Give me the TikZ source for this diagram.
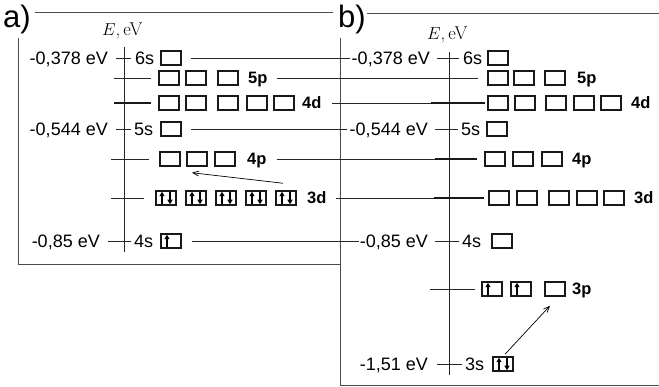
\documentclass[tikz,border=0pt]{standalone}
\usepackage{fontspec}
\newfontfamily\arial{Liberation Sans}
\usetikzlibrary{arrows.meta}
\newcommand\eup[1]{\draw[el] ([xshift=-4pt,yshift=1.8pt]#1.south) -- ([xshift=-4pt,yshift=-1.5pt]#1.north);}
\newcommand\edn[1]{\draw[el] ([xshift=4pt,yshift=-1.8pt]#1.north) -- ([xshift=4pt,yshift=1.5pt]#1.south);}
\begin{document}
\begin{tikzpicture}[x=1pt,y=-1pt,
  en/.style={font=\arial\fontsize{18}{18}\selectfont, inner sep=0pt, text height=13pt, text depth=0pt},
  ob/.style={font=\arial\bfseries\fontsize{16.5}{16.5}\selectfont, inner sep=0pt, text height=12pt, text depth=0pt},
  hd/.style={font=\arial\fontsize{31}{31}\selectfont, inner sep=0pt, anchor=base west},
  ax/.style={font=\fontsize{18.5}{18.5}\selectfont, inner sep=0pt, anchor=base west},
  orb/.style={draw=black!90, line width=1.5pt, minimum width=20pt, minimum height=14pt, inner sep=0pt},
  lvl/.style={line width=0.75pt, draw=black!85},
  tk/.style={line width=1.5pt, draw=black!90},
  mk/.style={line width=1.1pt, draw=black!90},
  frm/.style={line width=0.8pt, draw=black!70},
  el/.style={line width=1.3pt, -{Triangle[length=4.5pt,width=5pt]}},
  exc/.style={line width=0.7pt, -{Straight Barb[length=6pt,width=5pt]}},
]
\useasboundingbox (0,0) rectangle (659,387);

% frames and headings
\node[hd] (ha) at (3,28) {a)};
\node[hd] (hb) at (338,28) {b)};
\draw[frm] (35,12) -- (333,12);
\draw[frm] (367,13) -- (659,13);
\draw[frm] (18,38) -- (18,264) -- (340,264);
\draw[frm] (340,38) -- (340,385) -- (659,385);

% axes
\node[ax] (aE) at (102,36) {$E$,\,eV};
\node[ax] (bE) at (427,40) {$E$,\,eV};
\draw[lvl] (124,47) -- (124,252);
\draw[lvl] (449,52) -- (449,375);

% ---------- panel a ----------
\node[en,anchor=east] (a6sE) at (108,58) {-0,378 eV};
\node[en,anchor=west] (a6sL) at (135,58) {6s};
\node[orb] (a6s) at (171,58) {};
\draw[lvl] ([xshift=8pt]a6sE.east) -- ([xshift=-4pt]a6sL.west);

\foreach \n/\x in {1/169,2/196,3/228} \node[orb] (a5p\n) at (\x,78) {};
\node[ob,anchor=west] (a5pL) at (248,78) {5p};
\draw[lvl] ([xshift=-7pt]a5p1.west) -- ++(-37,0);

\foreach \n/\x in {1/169,2/196,3/228,4/257,5/284} \node[orb] (a4d\n) at (\x,103) {};
\node[ob,anchor=west] (a4dL) at (302,103) {4d};
\draw[tk] ([xshift=-7pt]a4d1.west) -- ++(-37,0);

\node[en,anchor=east] (a5sE) at (108,129) {-0,544 eV};
\node[en,anchor=west] (a5sL) at (134,129) {5s};
\node[orb] (a5s) at (171,129) {};
\draw[lvl] ([xshift=8pt]a5sE.east) -- ([xshift=-3pt]a5sL.west);

\foreach \n/\x in {1/170,2/197,3/225} \node[orb] (a4p\n) at (\x,159) {};
\node[ob,anchor=west] (a4pL) at (247,159) {4p};
\draw[lvl] ([xshift=-10pt]a4p1.west) -- ++(-38,0);

\foreach \n/\x in {1/166,2/196,3/226,4/256,5/286} \node[orb] (a3d\n) at (\x,198) {};
\node[ob,anchor=west] (a3dL) at (307,198) {3d};
\draw[lvl] ([xshift=-11pt]a3d1.west) -- ++(-33,0);
\foreach \n in {1,...,5} {\eup{a3d\n}\edn{a3d\n}}

\node[en,anchor=east] (a4sE) at (100,241) {-0,85 eV};
\node[en,anchor=west] (a4sL) at (134,241) {4s};
\node[orb] (a4s) at (171,241) {};
\draw[lvl] ([xshift=8pt]a4sE.east) -- ([xshift=-3pt]a4sL.west);
\eup{a4s}

\draw[exc] ([shift={(-3,-7)}]a3d5.north) -- ([shift={(-5,6)}]a4p2.south);

% ---------- panel b ----------
\node[en,anchor=east] (b6sE) at (430,58) {-0,378 eV};
\node[en,anchor=west] (b6sL) at (463,58) {6s};
\node[orb] (b6s) at (498,58) {};
\draw[lvl] ([xshift=7pt]b6sE.east) -- ([xshift=-4pt]b6sL.west);

\foreach \n/\x in {1/498,2/524,3/555} \node[orb] (b5p\n) at (\x,78) {};
\node[ob,anchor=west] (b5pL) at (577,78) {5p};

\foreach \n/\x in {1/498,2/525,3/556,4/584,5/611} \node[orb] (b4d\n) at (\x,103) {};
\node[ob,anchor=west] (b4dL) at (631,103) {4d};

\node[en,anchor=east] (b5sE) at (428,129) {-0,544 eV};
\node[en,anchor=west] (b5sL) at (461,129) {5s};
\node[orb] (b5s) at (497,129) {};
\draw[lvl] ([xshift=7pt]b5sE.east) -- ([xshift=-3pt]b5sL.west);

\foreach \n/\x in {1/495,2/523,3/552} \node[orb] (b4p\n) at (\x,159) {};
\node[ob,anchor=west] (b4pL) at (572,159) {4p};

\foreach \n/\x in {1/499,2/527,3/559,4/587,5/614} \node[orb] (b3d\n) at (\x,198) {};
\node[ob,anchor=west] (b3dL) at (634,198) {3d};

\node[en,anchor=east] (b4sE) at (428,241) {-0,85 eV};
\node[en,anchor=west] (b4sL) at (462,241) {4s};
\node[orb] (b4s) at (502,241) {};
\draw[lvl] ([xshift=7pt]b4sE.east) -- ([xshift=-3pt]b4sL.west);

\foreach \n/\x in {1/492,2/521,3/555} \node[orb] (b3p\n) at (\x,289) {};
\node[ob,anchor=west] (b3pL) at (572,289) {3p};
\draw[lvl] ([xshift=-6pt]b3p1.west) -- ++(-45,0);
\eup{b3p1}\eup{b3p2}

\node[en,anchor=east] (b3sE) at (428,364) {-1,51 eV};
\node[en,anchor=west] (b3sL) at (465,364) {3s};
\node[orb] (b3s) at (503,364) {};
\draw[lvl] ([xshift=9pt]b3sE.east) -- ([xshift=-3pt]b3sL.west);
\eup{b3s}\edn{b3s}

\draw[exc] ([shift={(2,-2)}]b3s.north) -- ([shift={(-5,9)}]b3p3.south);

% ---------- level lines from a to b ----------
\draw[lvl] ([xshift=9pt]a6s.east) -- ([xshift=-2pt]b6sE.west);
\draw[lvl] ([xshift=9pt]a5pL.east) -- ([xshift=-9pt]b5p1.west);
\draw[lvl] ([xshift=10pt]a4dL.east) -- ([xshift=-2pt]b4d1.west);
\draw[tk] ([xshift=-2pt]b4d1.west) -- ++(-54,0);
\draw[lvl] ([xshift=9pt]a5s.east) -- ([xshift=-3pt]b5sE.west);
\draw[lvl] ([xshift=10pt]a4pL.east) -- ([xshift=-7pt]b4p1.west);
\draw[mk] ([xshift=-7pt]b4p1.west) -- ++(-42,0);
\draw[lvl] ([xshift=9pt]a3dL.east) -- ([xshift=-4pt]b3d1.west);
\draw[mk] ([xshift=-4pt]b3d1.west) -- ++(-50,0);
\draw[lvl] ([xshift=10pt]a4s.east) -- ([xshift=-1pt]b4sE.west);
\end{tikzpicture}
\end{document}
